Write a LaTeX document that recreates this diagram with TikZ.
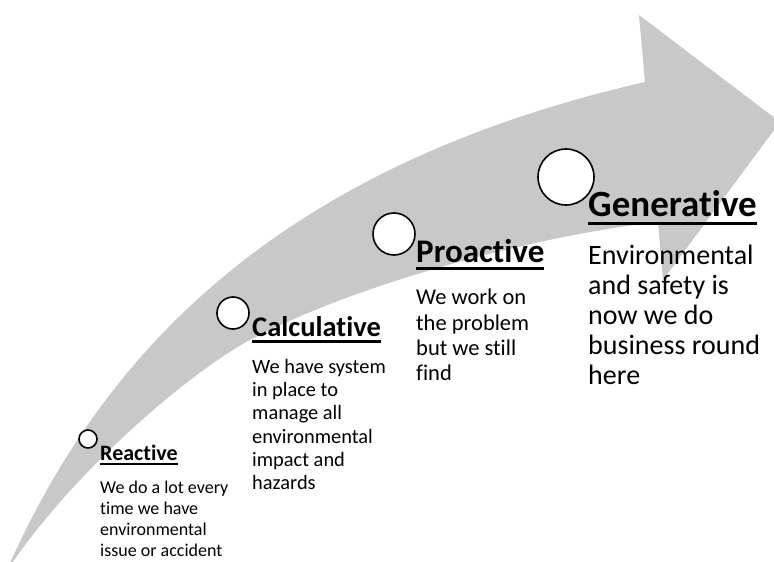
\documentclass[tikz,border=0pt]{standalone}
\usepackage{fontspec}
\setmainfont{Carlito}[Ligatures=NoCommon]
\usetikzlibrary{positioning}
\definecolor{arrowgrey}{RGB}{200,200,200}
\newcommand{\headul}[1]{\setbox0=\hbox{#1}\rlap{\vrule height -.15em depth .24em width \wd0}\box0}

\begin{document}
\begin{tikzpicture}[x=1pt,y=-1pt,
	stage/.style={circle,draw,fill=white,line width=1.6pt,inner sep=0pt},
	heading/.style={anchor=base west,inner sep=0pt},
	body/.style={anchor=north west,inner sep=0pt,align=left}]
	\useasboundingbox (0,0) rectangle (774,562);
	\clip (0,0) rectangle (774,562);

	% the big curved arrow
	\fill[arrowgrey] (6,572) .. controls (95,370) and (260,170) .. (645,82)
		-- (639,15) -- (780,122) -- (663,280) -- (658,222)
		.. controls (540,235) and (360,282) .. (250,340)
		.. controls (190,372) and (72,472) .. (6,572) -- cycle;

	% reactive
	\node[stage,minimum size=18pt] (rcirc) at (88,439) {};
	\node[heading,font={\fontsize{22}{26}\selectfont\bfseries}] (rhead) at (100,460) {\headul{Reactive}};
	\node[body,font={\fontsize{18}{21}\selectfont}] (rbody) at (100,481) {We do a lot every\\time we have\\environmental\\issue or accident};

	% calculative
	\node[stage,minimum size=32pt] (ccirc) at (233,313) {};
	\node[heading,font={\fontsize{28.5}{33}\selectfont\bfseries}] (chead) at (252,336) {\headul{Calculative}};
	\node[body,font={\fontsize{20.4}{23.3}\selectfont}] (cbody) at (252,359) {We have system\\in place to\\manage all\\environmental\\impact and\\hazards};

	% proactive
	\node[stage,minimum size=42pt] (pcirc) at (394,234) {};
	\node[heading,font={\fontsize{33}{38}\selectfont\bfseries}] (phead) at (416,262) {\headul{Proactive}};
	\node[body,font={\fontsize{22.5}{25.3}\selectfont}] (pbody) at (416,289) {We work on\\the problem\\but we still\\find};

	% generative
	\node[stage,minimum size=56pt] (gcirc) at (566,177) {};
	\node[heading,font={\fontsize{37}{43}\selectfont\bfseries}] (ghead) at (588,216) {\headul{Generative}};
	\node[body,font={\fontsize{28}{30}\selectfont}] (gbody) at (588,245) {Environmental\\and safety is\\now we do\\business round\\here};
\end{tikzpicture}
\end{document}
